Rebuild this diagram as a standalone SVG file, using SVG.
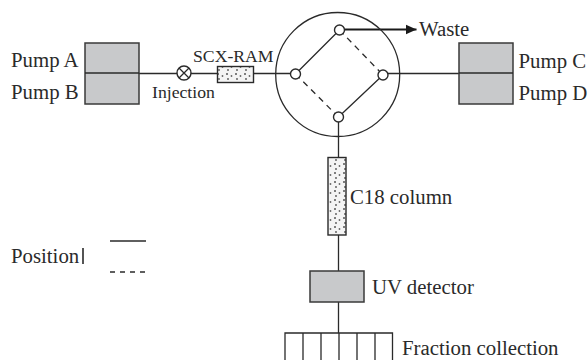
<svg xmlns="http://www.w3.org/2000/svg" width="588" height="360" viewBox="0 0 588 360">
<style>
text{font-family:"Liberation Serif","Times New Roman",serif;font-size:20.8px;fill:#2a2a2a}
.s{font-size:17.7px}
.l{stroke:#2a2a2a;stroke-width:1.3;fill:none}
.d{stroke:#2a2a2a;stroke-width:1.3;fill:none;stroke-dasharray:6 5}
.g{fill:#c8c9cb;stroke:#3a3a3a;stroke-width:1.5}
.o{fill:#fff;stroke:#2a2a2a;stroke-width:1.4}
.p{fill:url(#dots);stroke:#2a2a2a;stroke-width:1.4}
</style>
<defs>
<pattern id="dots" width="9" height="9" patternUnits="userSpaceOnUse">
<rect width="9" height="9" fill="#f4f4f4"/>
<circle cx="2" cy="2" r="1" fill="#555"/><circle cx="6.5" cy="4" r="0.9" fill="#666"/><circle cx="3" cy="7" r="0.9" fill="#555"/>
</pattern>
<marker id="arr" markerUnits="userSpaceOnUse" markerWidth="12" markerHeight="12" refX="11" refY="6" orient="auto"><path d="M0 1L11 6L0 11Z" fill="#1a1a1a"/></marker>
</defs>
<g id="connectors">
<path class="l" d="M139 73.5H217M254 73.5H296M383 73.5H459M338.5 117V157M338.5 235V271M338.5 302V333"/>
<path class="l" d="M339.5 30L295.5 74M383 75L338.5 117"/>
<path class="d" d="M339.5 30L383 75M295.5 74L338.5 117"/>
<path d="M345 29.500H416.500" stroke="#1a1a1a" stroke-width="2" fill="none" marker-end="url(#arr)"/>
</g>
<g id="valve"><circle class="l" cx="337.700" cy="74.500" r="62"/>
<circle class="o" cx="339.500" cy="30" r="5"/><circle class="o" cx="295.500" cy="74" r="5"/><circle class="o" cx="383" cy="75" r="5"/><circle class="o" cx="338.500" cy="117" r="5"/></g>
<g id="pump-ab"><rect class="g" x="85" y="43" width="54" height="61"/><path class="l" d="M85 73H139"/>
<text x="11" y="67">Pump A</text><text x="11" y="99">Pump B</text></g>
<g id="pump-cd"><rect class="g" x="459" y="43" width="54" height="61"/><path class="l" d="M459 73H513"/>
<text x="518.500" y="68">Pump C</text><text x="518.500" y="100">Pump D</text></g>
<g id="injection"><circle class="o" cx="184" cy="73" r="7"/><path class="l" d="M179 68L189 78M189 68L179 78"/><text class="s" x="152" y="98">Injection</text></g>
<g id="scx-ram"><rect class="p" x="217.500" y="66.500" width="36" height="16"/><text class="s" x="193" y="62">SCX-RAM</text></g>
<g id="waste"><text x="419" y="36">Waste</text></g>
<g id="c18"><rect class="p" x="328" y="157.500" width="18" height="77.500"/><text x="350" y="203.500">C18 column</text></g>
<g id="uv"><rect class="g" x="310" y="271" width="54" height="31"/><text x="372" y="293.500">UV detector</text></g>
<g id="fraction"><path class="l" d="M285 360V333H392.500V360M303 333V360M321 333V360M339 333V360M357 333V360M375 333V360"/><text x="402" y="355">Fraction collection</text></g>
<g id="legend"><text x="11" y="263">Position</text><path d="M83 248V264" stroke="#2a2a2a" stroke-width="1.6"/>
<path class="l" d="M110 241H146"/><path d="M110 272H146" class="l" stroke-dasharray="5 5"/></g>
</svg>
